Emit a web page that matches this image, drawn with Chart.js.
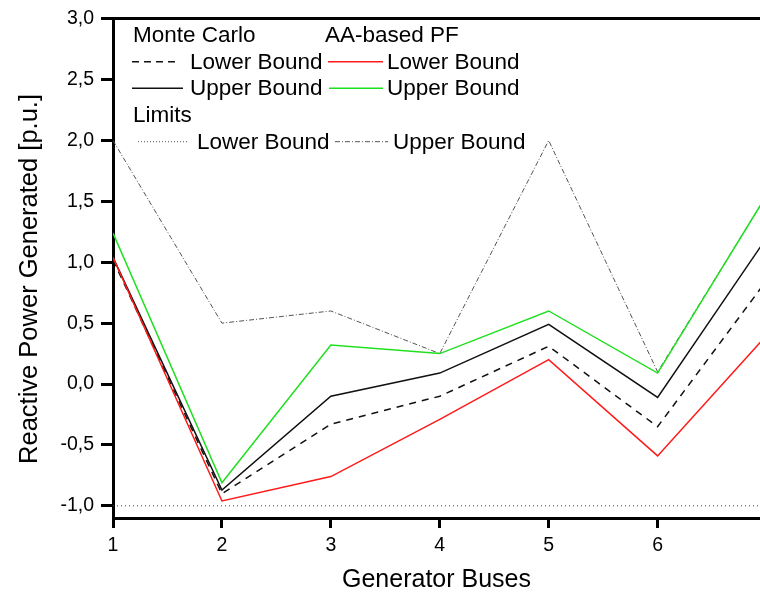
<!DOCTYPE html>
<html>
<head>
<meta charset="utf-8">
<script src="https://cdn.jsdelivr.net/npm/chart.js@4.4.0/dist/chart.umd.min.js"></script>
<style>
  html, body { margin: 0; padding: 0; background: #fff; }
  #wrap { width: 760px; height: 593px; }
</style>
</head>
<body>
<div id="wrap"><canvas id="chart-canvas" width="760" height="593"></canvas></div>
<script>
// Values (bus 7 sits just past the cropped right edge).
var buses = [1, 2, 3, 4, 5, 6, 7];
var mcLower = [1.02, -0.90, -0.33, -0.10, 0.31, -0.35, 0.85];
var mcUpper = [1.04, -0.87, -0.10, 0.09, 0.49, -0.11, 1.20];
var aaLower = [1.04, -0.96, -0.76, -0.29, 0.20, -0.59, 0.40];
var aaUpper = [1.24, -0.81, 0.32, 0.25, 0.60, 0.09, 1.55];
var limLower = [-1.0, -1.0, -1.0, -1.0, -1.0, -1.0, -1.0];
var limUpper = [2.0, 0.5, 0.6, 0.25, 2.0, 0.1, 1.55];

var xTicks = [1, 2, 3, 4, 5, 6];
var yTicks = [-1.0, -0.5, 0.0, 0.5, 1.0, 1.5, 2.0, 2.5, 3.0];

var FONT = "'Liberation Sans', Arial, sans-serif";

Chart.defaults.font.family = FONT;
Chart.defaults.color = '#000';

function toPoints(values) {
  return values.map(function (v, i) {
    return { x: buses[i], y: v };
  });
}

function line(label, values, color, width, dash) {
  return {
    label: label,
    data: toPoints(values),
    borderColor: color,
    borderWidth: width,
    borderDash: dash || [],
    pointRadius: 0,
    fill: false,
    tension: 0
  };
}

// The legend of the original is a little table, so it is drawn by hand.
var boundsLegend = {
  id: 'boundsLegend',
  afterDraw: function (chart) {
    var ctx = chart.ctx;
    var samples = [
      { x0: 132, x1: 180, y: 61.7, color: '#111', width: 1.5, dash: [7, 5], text: 'Lower Bound', tx: 190 },
      { x0: 328, x1: 383, y: 61.7, color: '#ff1a1a', width: 1.5, dash: [], text: 'Lower Bound', tx: 387 },
      { x0: 132, x1: 183, y: 88.3, color: '#111', width: 1.5, dash: [], text: 'Upper Bound', tx: 190 },
      { x0: 329, x1: 383, y: 88.3, color: '#1fe01f', width: 1.5, dash: [], text: 'Upper Bound', tx: 387 },
      { x0: 138, x1: 188, y: 141.7, color: '#555', width: 1, dash: [1, 2], text: 'Lower Bound', tx: 197 },
      { x0: 335, x1: 388, y: 141.7, color: '#555', width: 1, dash: [5, 2, 1, 2], text: 'Upper Bound', tx: 393 }
    ];

    ctx.save();
    ctx.font = '22.5px ' + FONT;
    ctx.fillStyle = '#000';
    ctx.textBaseline = 'alphabetic';
    ctx.fillText('Monte Carlo', 133, 41.7);
    ctx.fillText('AA-based PF', 325, 41.7);
    ctx.fillText('Limits', 133, 121.7);

    for (var i = 0; i < samples.length; i++) {
      var s = samples[i];
      ctx.beginPath();
      ctx.strokeStyle = s.color;
      ctx.lineWidth = s.width;
      ctx.setLineDash(s.dash);
      ctx.moveTo(s.x0, s.y);
      ctx.lineTo(s.x1, s.y);
      ctx.stroke();
      ctx.setLineDash([]);
      ctx.fillText(s.text, s.tx, s.y + 7);
    }
    ctx.restore();
  }
};

var axisBorder = { display: true, width: 3, color: '#000' };

new Chart(document.getElementById('chart-canvas').getContext('2d'), {
  type: 'line',
  data: {
    datasets: [
      line('AA-based PF Upper Bound', aaUpper, '#1fe01f', 1.5),
      line('AA-based PF Lower Bound', aaLower, '#ff1a1a', 1.5),
      line('Monte Carlo Upper Bound', mcUpper, '#111', 1.5),
      line('Monte Carlo Lower Bound', mcLower, '#111', 1.5, [7, 6]),
      line('Limits Upper Bound', limUpper, '#555', 1, [5, 2, 1, 2]),
      line('Limits Lower Bound', limLower, '#444', 1, [1, 3])
    ]
  },
  options: {
    responsive: false,
    animation: false,
    layout: { padding: 0 },
    plugins: {
      legend: { display: false },
      tooltip: { enabled: false }
    },
    scales: {
      x: {
        type: 'linear',
        position: 'bottom',
        min: 1,
        max: 6.94,
        border: axisBorder,
        grid: { drawOnChartArea: false, drawTicks: true, tickLength: 10, tickWidth: 3, tickColor: '#000' },
        ticks: { font: { size: 19.5 }, padding: 6, maxRotation: 0 },
        afterBuildTicks: function (scale) {
          scale.ticks = xTicks.map(function (v) { return { value: v }; });
        },
        afterFit: function (scale) { scale.height = 75; },
        title: {
          display: true,
          text: 'Generator Buses',
          font: { size: 25, lineHeight: 1 },
          padding: { top: 0, bottom: 0 }
        }
      },
      xTop: {
        type: 'linear',
        position: 'top',
        min: 1,
        max: 6.94,
        border: axisBorder,
        grid: { drawOnChartArea: false, drawTicks: false },
        ticks: { display: false },
        afterFit: function (scale) { scale.height = 17; }
      },
      y: {
        type: 'linear',
        min: -1.1,
        max: 3.0,
        border: axisBorder,
        grid: { drawOnChartArea: false, drawTicks: true, tickLength: 12, tickWidth: 3, tickColor: '#000' },
        ticks: {
          font: { size: 19.5 },
          padding: 7,
          callback: function (v) { return v.toFixed(1).replace('.', ','); }
        },
        afterBuildTicks: function (scale) {
          scale.ticks = yTicks.map(function (v) { return { value: v }; });
        },
        afterFit: function (scale) { scale.width = 113; },
        title: {
          display: true,
          // trailing spaces push the centred title down, as in the original
          text: 'Reactive Power Generated [p.u.]   ',
          font: { size: 25.5, lineHeight: 1 },
          padding: { top: 17, bottom: 0 }
        }
      }
    }
  },
  plugins: [boundsLegend]
});
</script>
</body>
</html>
